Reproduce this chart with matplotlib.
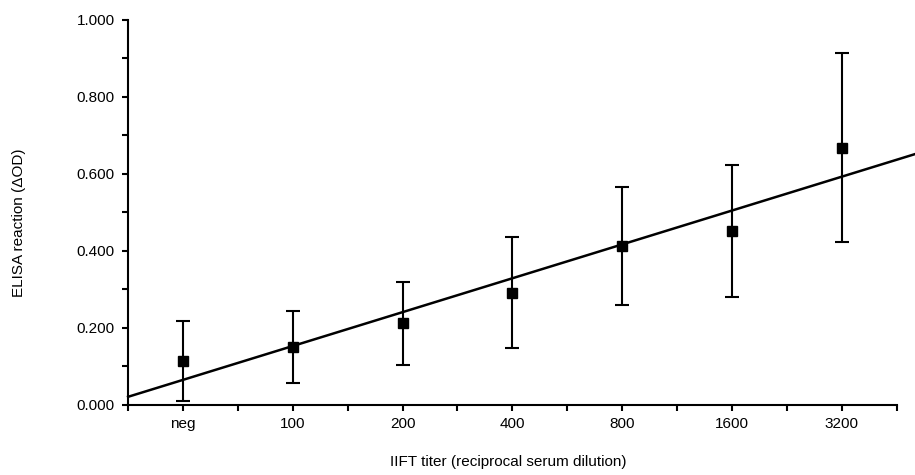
import numpy as np
import matplotlib.pyplot as plt
from matplotlib.ticker import MultipleLocator

# IIFT titer groups and mean ELISA reaction with SD
titers = ['neg', '100', '200', '400', '800', '1600', '3200']
means = [0.115, 0.151, 0.212, 0.292, 0.414, 0.452, 0.668]
errors = [0.104, 0.093, 0.108, 0.145, 0.153, 0.172, 0.245]

plt.rcParams['font.family'] = ['Liberation Sans', 'DejaVu Sans']

fig = plt.figure(figsize=(9.15, 4.75), dpi=100)
ax = fig.add_axes([0.140, 0.1474, 0.840, 0.8105])

x = np.arange(len(titers))
ax.errorbar(x, means, yerr=errors, fmt='s', color='black', markersize=6.5,
            elinewidth=1.5, capsize=5, capthick=1.5)

# linear regression across titer steps
slope, intercept = np.polyfit(x, means, 1)
xl = np.array([-0.5, 6.67])
ax.plot(xl, slope * xl + intercept, color='black', lw=1.8, clip_on=False)

ax.set_xlim(-0.5, 6.5)
ax.set_ylim(0, 1.0)
ax.set_xticks(x)
ax.set_xticklabels(titers)
ax.xaxis.set_minor_locator(MultipleLocator(0.5))
ax.yaxis.set_major_locator(MultipleLocator(0.2))
ax.yaxis.set_minor_locator(MultipleLocator(0.1))
ax.yaxis.set_major_formatter(plt.FormatStrFormatter('%.3f'))

for side in ['top', 'right']:
    ax.spines[side].set_visible(False)
for side in ['left', 'bottom']:
    ax.spines[side].set_linewidth(1.5)
ax.tick_params(which='both', direction='out', width=1.5, labelsize=11)
ax.tick_params(axis='x', pad=4)
ax.tick_params(axis='y', pad=5)
ax.tick_params(which='major', length=4.5)
ax.tick_params(which='minor', length=4)

ax.set_ylabel('ELISA reaction (\u0394OD)', fontsize=11)
ax.set_xlabel('IIFT titer (reciprocal serum dilution)', fontsize=11)
ax.yaxis.set_label_coords(-0.133, 0.473)
ax.xaxis.set_label_coords(0.494, -0.13)

fig.savefig('out.png', dpi=100)
